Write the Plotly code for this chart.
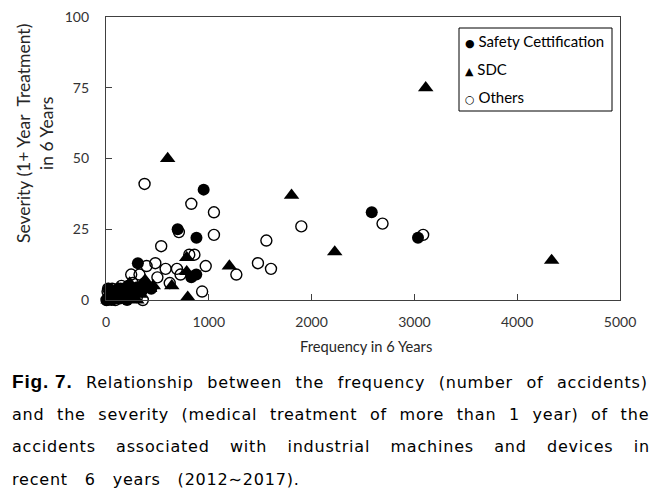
import plotly.graph_objects as go

# ---------------- data ----------------
sc_x = [950, 697, 880, 2585, 3035, 310, 830, 878, 375, 440,
        10, 22, 38, 52, 70, 85, 100, 118, 135, 155, 178, 195, 215, 245, 275,
        305, 345, 28, 62, 125, 165, 205, 48, 92]
sc_y = [39, 25, 22, 31, 22, 13, 8, 9, 6, 4,
        0, 1, 2.5, 0, 3, 1, 2, 4, 0.5, 3, 2, 1, 5, 3, 2,
        4.5, 3, 4, 1, 2, 4, 0, 3, 0.5]

sdc_x = [600, 795, 1200, 1805, 2225, 3110, 4335, 785, 785, 230, 425, 180, 640,
         20, 55, 100, 140, 260, 330, 380, 460, 120, 300]
sdc_y = [50, 1, 12, 37, 17, 75, 14, 15, 10, 6, 4, 1, 5,
         0, 1, 2, 0, 3, 2, 7, 5, 4, 0]

oth_x = [375, 830, 1050, 709, 1050, 1560, 1900, 2690, 3085, 537, 970, 1268,
         1478, 1605, 810, 860, 480, 580, 690, 500, 620, 245, 326, 725, 935,
         358, 395, 5, 15, 35, 60, 90, 110, 150, 200, 260, 300, 20, 140, 180, 230]
oth_y = [41, 34, 31, 24, 23, 21, 26, 27, 23, 19, 12, 9,
         13, 11, 16, 16, 13, 11, 11, 8, 6, 9, 9, 9, 3,
         0, 12, 0, 3, 1, 4, 0, 2, 5, 3, 6, 1, 4, 4, 2, 1]

x_ticks = [0, 1000, 2000, 3000, 4000, 5000]
y_ticks = [0, 25, 50, 75, 100]

legend_labels = ["Safety Cettification", "SDC", "Others"]
legend_glyphs = ["\u25CF", "\u25B2", "\u25CB"]

fig_label = "Fig. 7."
caption_lines = [
    "Relationship between the frequency (number of accidents)",
    "and the severity (medical treatment of more than 1 year) of the",
    "accidents associated with industrial machines and devices in",
    "recent 6 years (2012\u223c2017).",
]

# ---------------- layout geometry ----------------
W, H = 658, 501
OFF = 8                     # page body margin of the html page
PL, PR, PT, PB = 106, 620, 17, 300   # plot box in page pixels
L, T = PL - OFF, PT - OFF
R, B = W - (PR - OFF), H - (PB - OFF)
PW, PH = W - L - R, H - T - B


def px_x(p):
    return (p - OFF - L) / PW


def px_y(p):
    return (H - B - (p - OFF)) / PH


fig = go.Figure()
fig.add_trace(go.Scatter(
    x=sc_x, y=sc_y, mode="markers", name=legend_labels[0], cliponaxis=False,
    marker=dict(symbol="circle", size=12, color="black", line=dict(width=0))))
fig.add_trace(go.Scatter(
    x=sdc_x, y=sdc_y, mode="markers", name=legend_labels[1], cliponaxis=False,
    marker=dict(symbol="triangle-up", size=13.5, color="black", line=dict(width=0))))
fig.add_trace(go.Scatter(
    x=oth_x, y=oth_y, mode="markers", name=legend_labels[2], cliponaxis=False,
    marker=dict(symbol="circle-open", size=11, color="black", line=dict(width=1.4, color="black"))))

axis_common = dict(
    showgrid=False, zeroline=False, showline=True, linecolor="#404040", linewidth=1.3,
    mirror=True, ticks="inside", ticklen=6, tickcolor="#404040", tickwidth=1.2,
    ticklabeloverflow="allow", automargin=False,
    tickfont=dict(family="Lato, Liberation Sans, sans-serif", size=14, color="#333333"),
)
fig.update_xaxes(range=[0, 5000], tickvals=x_ticks, ticktext=[str(v) for v in x_ticks],
                 ticklabelstandoff=9, **axis_common)
fig.update_yaxes(range=[0, 100], tickvals=y_ticks, ticktext=[str(v) for v in y_ticks],
                 ticklabelstandoff=13, **axis_common)

annotations = []
# axis titles
annotations.append(dict(
    text="Frequency in 6 Years", xref="paper", yref="paper", x=px_x(366), y=px_y(346),
    xanchor="center", yanchor="middle", showarrow=False,
    font=dict(family="Lato, Liberation Sans, sans-serif", size=14.7, color="#262626")))
annotations.append(dict(
    text="Severity (1+ Year  Treatment)<br>in 6 Years", xref="paper", yref="paper",
    x=px_x(35), y=px_y(134), xanchor="center", yanchor="middle", textangle=-90,
    showarrow=False,
    font=dict(family="Lato, Liberation Sans, sans-serif", size=17.5, color="#262626")))

# legend (manual, Excel style)
fig.add_shape(type="rect", xref="paper", yref="paper",
              x0=px_x(459), x1=px_x(612), y0=px_y(111), y1=px_y(28),
              line=dict(color="black", width=1), fillcolor="white", layer="below")
for i, (g, lab) in enumerate(zip(legend_glyphs, legend_labels)):
    annotations.append(dict(
        text=f"<span style='font-family:DejaVu Sans;font-size:11px'>{g}</span> {lab}",
        xref="paper", yref="paper", x=px_x(463), y=px_y(41 + 28 * i),
        xanchor="left", yanchor="middle", showarrow=False,
        font=dict(family="Lato, Liberation Sans, sans-serif", size=15, color="black")))

# caption (justified look via per-line word spacing)
cap_y = [381, 414, 446, 479]
cap_ws = [7.6, 6.7, 14.4, 11.0]
for i, line in enumerate(caption_lines):
    body = f"<span style='letter-spacing:0.8px;word-spacing:{cap_ws[i]}px'>{line}</span>"
    if i == 0:
        body = ("<span style='font-family:Liberation Sans;font-size:19px;letter-spacing:0.8px'>"
                f"<b>{fig_label}</b></span>"
                f"<span style='letter-spacing:0.8px;word-spacing:{cap_ws[i]}px'> {line}</span>")
    annotations.append(dict(
        text=body, xref="paper", yref="paper", x=px_x(10), y=px_y(cap_y[i]),
        xanchor="left", yanchor="middle", showarrow=False,
        font=dict(family="DejaVu Sans, sans-serif", size=16, color="black")))

fig.update_layout(
    width=W, height=H, margin=dict(l=L, r=R, t=T, b=B),
    paper_bgcolor="white", plot_bgcolor="white", showlegend=False,
    annotations=annotations,
)

fig.write_html("out.html")
